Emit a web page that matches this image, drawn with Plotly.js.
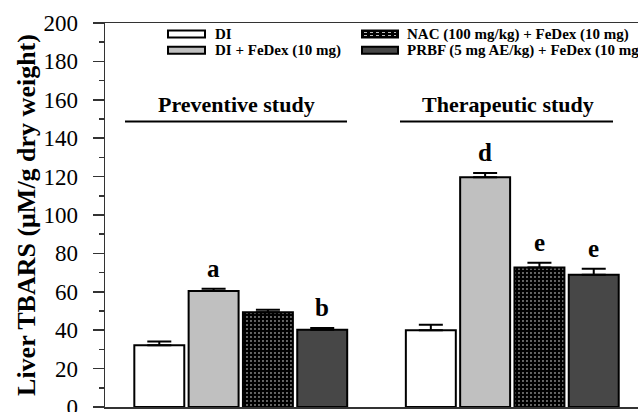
<!DOCTYPE html>
<html>
<head>
<meta charset="utf-8">
<script src="https://cdn.plot.ly/plotly-3.0.1.min.js"></script>
<style>html,body{margin:0;padding:0;background:#fff;}#chart{width:638px;height:412px;}</style>
</head>
<body>
<div id="chart"></div>
<script>
// ---- data ----
var studies = ["Preventive study", "Therapeutic study"];
var groupNames = ["DI", "DI + FeDex (10 mg)", "NAC (100 mg/kg) + FeDex (10 mg)", "PRBF (5 mg AE/kg) + FeDex (10 mg)"];
var valDI     = [32.2, 40.0];
var valFeDex  = [60.4, 119.6];
var valNAC    = [49.4, 72.7];
var valPRBF   = [40.2, 68.9];
var errDI     = [1.9, 2.8];
var errFeDex  = [1.2, 2.3];
var errNAC    = [1.2, 2.4];
var errPRBF   = [1.0, 3.1];
var letters   = [["", "a", "", "b"], ["", "d", "e", "e"]];
var yTicks    = [0, 20, 40, 60, 80, 100, 120, 140, 160, 180, 200];

// ---- styling ----
var serif = "Liberation Serif";
var W = 638, H = 412;
var M = {l: 105, r: 0, t: 23, b: 5};
var bargap = 0.2;
var fills = ["#ffffff", "#c0c0c0", "#000000", "#474747"];
var values = [valDI, valFeDex, valNAC, valPRBF];
var errs = [errDI, errFeDex, errNAC, errPRBF];

function px2paperX(px) { return (px - M.l) / (W - M.l - M.r); }
function px2paperY(py) { return (H - M.b - py) / (H - M.t - M.b); }

var traces = values.map(function (v, i) {
  var marker = {color: fills[i], line: {color: "#000", width: 2}};
  if (i === 2) {
    marker.pattern = {shape: ".", bgcolor: "#000000", fgcolor: "#ffffff", size: 4, solidity: 0.1, fillmode: "replace"};
  }
  return {
    type: "bar", name: groupNames[i], x: studies, y: v,
    marker: marker,
    error_y: {type: "data", symmetric: false, array: errs[i], arrayminus: v.map(function(){return 0;}),
              color: "#000", thickness: 2, width: 12},
    showlegend: false, hoverinfo: "none"
  };
});

var annotations = [];
var slot = (1 - bargap) / 4;
letters.forEach(function (row, g) {
  row.forEach(function (L, b) {
    if (!L) return;
    annotations.push({
      x: g + (b - 1.5) * slot, xref: "x", y: values[b][g] + errs[b][g], yref: "y",
      text: "<b>" + L + "</b>", showarrow: false, yanchor: "bottom", yshift: 5,
      font: {family: serif, size: 25, color: "#000"}
    });
  });
});
// group labels
studies.forEach(function (s, g) {
  annotations.push({
    x: g, xref: "x", xshift: -4, y: px2paperY(104), yref: "paper",
    text: "<b>" + s + "</b>", showarrow: false, yanchor: "middle",
    font: {family: serif, size: 22, color: "#000"}
  });
});

var shapes = [];
// underlines
[[125, 347], [400, 613]].forEach(function (p) {
  shapes.push({type: "line", xref: "paper", yref: "paper", x0: px2paperX(p[0]), x1: px2paperX(p[1]),
               y0: px2paperY(121.5), y1: px2paperY(121.5), line: {color: "#000", width: 2}});
});
// legend
var legCols = [[168, 205, 213], [362, 398, 405]];
var legRows = [34, 50.3];
var legOrder = [[0, 0], [1, 0], [0, 1], [1, 1]]; // [row, col] for each group
legOrder.forEach(function (rc, i) {
  var c = legCols[rc[1]], yc = legRows[rc[0]];
  shapes.push({type: "rect", xref: "paper", yref: "paper",
    x0: px2paperX(c[0]), x1: px2paperX(c[1]), y0: px2paperY(yc + 3.5), y1: px2paperY(yc - 3.5),
    fillcolor: fills[i], line: {color: "#000", width: 2}});
  if (i === 2) {
    [-1.5, 1.5].forEach(function (d) {
      shapes.push({type: "line", xref: "paper", yref: "paper",
        x0: px2paperX(c[0] + 2), x1: px2paperX(c[1] - 2), y0: px2paperY(yc + d), y1: px2paperY(yc + d),
        line: {color: "#bbbbbb", width: 1, dash: "dot"}});
    });
  }
  annotations.push({x: px2paperX(c[2]), xref: "paper", xanchor: "left", y: px2paperY(yc), yref: "paper",
    yanchor: "middle", text: "<b>" + groupNames[i] + "</b>", showarrow: false,
    font: {family: serif, size: 15, color: "#000"}});
});

var layout = {
  width: W, height: H, margin: M,
  paper_bgcolor: "#fff", plot_bgcolor: "#fff",
  barmode: "group", bargap: bargap, bargroupgap: 0.08,
  showlegend: false,
  xaxis: {type: "category", range: [-0.5, 1.463], showticklabels: false, ticks: "",
          showline: true, mirror: true, linecolor: "#333", linewidth: 1.5, showgrid: false, zeroline: false, fixedrange: true},
  yaxis: {range: [0, 200], tickvals: yTicks, ticks: "outside", ticklen: 11, tickwidth: 1.5, tickcolor: "#333",
          minor: {dtick: 10, ticks: "outside", ticklen: 5, tickwidth: 1.5, tickcolor: "#333"},
          showline: true, linecolor: "#333", linewidth: 1.5, showgrid: false, zeroline: false,
          ticklabeloverflow: "allow", ticklabelstandoff: 10,
          tickfont: {family: serif, size: 23, color: "#000"},
          title: {text: "<b>Liver TBARS (μM/g dry weight)</b>", font: {family: serif, size: 26, color: "#000"}, standoff: 0}},
  annotations: annotations, shapes: shapes,
  font: {family: serif}
};

Plotly.newPlot("chart", traces, layout, {displayModeBar: false, staticPlot: true});
</script>
</body>
</html>
